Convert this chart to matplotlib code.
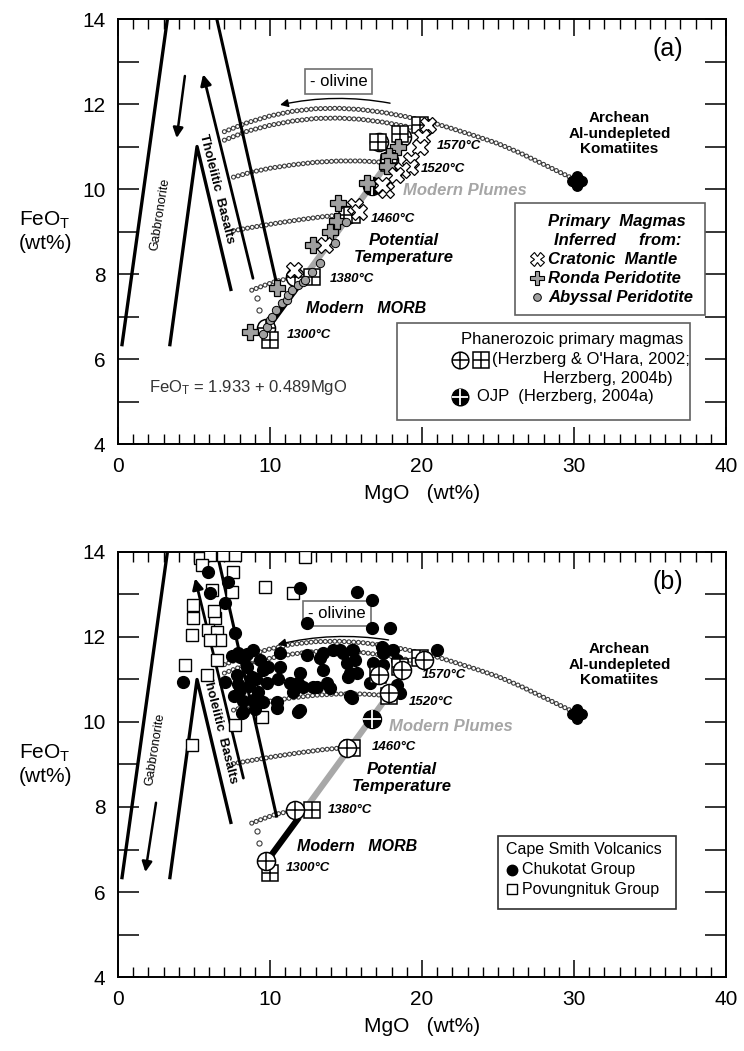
import numpy as np
import matplotlib
matplotlib.use('Agg')
import matplotlib.pyplot as plt
from matplotlib.path import Path
from matplotlib.patches import Rectangle

plt.rcParams['font.family'] = ['Liberation Sans', 'DejaVu Sans']
plt.rcParams['mathtext.fontset'] = 'custom'
plt.rcParams['mathtext.rm'] = 'Liberation Sans'
plt.rcParams['mathtext.it'] = 'Liberation Sans:italic'
plt.rcParams['mathtext.bf'] = 'Liberation Sans:bold'
plt.rcParams['lines.scale_dashes'] = False

# --- olivine control lines (MgO, FeO) ---
ol1_mgo = [7.0, 8.5, 10.0, 11.5, 13.0, 14.5, 16.0, 17.5, 19.0, 20.5, 22.0, 23.5, 25.0, 26.5, 28.0, 29.5, 30.2]
ol1_feo = [11.35, 11.56, 11.72, 11.83, 11.89, 11.9, 11.87, 11.8, 11.7, 11.58, 11.42, 11.25, 11.07, 10.84, 10.58, 10.32, 10.2]
ol2_mgo = [7.0, 8.5, 10.0, 11.5, 13.0, 14.5, 16.0, 17.5, 19.0, 19.9]
ol2_feo = [11.15, 11.36, 11.5, 11.6, 11.66, 11.67, 11.64, 11.57, 11.47, 11.4]
ol3_mgo = [7.6, 8.8, 10.0, 11.5, 13.0, 14.5, 16.0, 17.4]
ol3_feo = [10.28, 10.4, 10.49, 10.57, 10.63, 10.66, 10.66, 10.63]
ol4_mgo = [7.6, 9.0, 10.5, 12.0, 13.5, 15.0]
ol4_feo = [9.02, 9.11, 9.2, 9.28, 9.35, 9.4]
ol5_mgo = [8.8, 9.6, 10.4, 11.3]
ol5_feo = [7.62, 7.73, 7.83, 7.9]
ol_extra_mgo = [9.17, 9.3]
ol_extra_feo = [7.43, 7.15]

# fractionation trends
gab_mgo = [0.25, 3.25]
gab_feo = [6.3, 14.0]
vee_mgo = [3.4, 5.2, 7.45]
vee_feo = [6.3, 11.0, 7.6]
long_mgo = [6.5, 10.45]
long_feo = [14.0, 7.75]

# potential temperature trend
morb_mgo = [9.7, 11.9]
morb_feo = [6.68, 7.75]
plume_mgo = [11.9, 17.4]
plume_feo = [7.75, 10.44]

# panel (a) primary magmas
crat_mgo = [20.4, 20.0, 19.9, 19.3, 19.2, 18.7, 18.3, 17.6, 17.4, 15.6, 15.85, 13.6, 11.6]
crat_feo = [11.5, 11.23, 10.99, 10.68, 10.52, 10.45, 10.33, 9.98, 10.09, 9.6, 9.47, 8.68, 8.09]
ronda_mgo = [18.45, 17.8, 17.7, 16.4, 14.5, 14.4, 13.95, 12.85, 10.45, 8.7]
ronda_feo = [11.0, 10.78, 10.55, 10.15, 9.66, 9.25, 9.0, 8.68, 7.66, 6.64]
aby_mgo = [9.55, 9.78, 10.0, 10.1, 10.4, 10.77, 11.1, 11.2, 11.45, 11.87, 12.2, 12.3, 12.75, 13.3, 14.3, 15.0]
aby_feo = [6.6, 6.76, 6.92, 7.0, 7.15, 7.31, 7.39, 7.5, 7.62, 7.74, 7.82, 7.86, 8.05, 8.25, 8.72, 9.23]

# Phanerozoic primary magmas, OJP, komatiites
phan_c_mgo = [9.75, 11.64, 15.05, 17.85, 17.2, 18.7, 20.1]
phan_c_feo = [6.72, 7.92, 9.39, 10.68, 11.1, 11.22, 11.47]
phan_s_mgo = [10.0, 12.74, 15.4, 17.85, 17.1, 18.55, 19.85]
phan_s_feo = [6.45, 7.92, 9.39, 10.62, 11.1, 11.3, 11.5]
ojp_mgo = [16.69]
ojp_feo = [10.06]
kom_mgo = [30.2]
kom_feo = [10.18]

# panel (b) Cape Smith volcanics
chuk_mgo = [5.94, 7.26, 6.05, 7.04, 7.7, 4.3, 7.04,
            11.97, 15.7, 16.69, 12.41, 16.69, 17.89, 20.97, 17.35, 18.11,
            8.03, 8.9, 8.47, 9.34, 9.56, 8.8, 9.78, 8.03, 8.9, 9.56, 8.14, 7.92, 8.25,
            7.8, 8.3, 9.1, 8.6, 9.2, 8.5, 7.9, 9.9, 8.2, 7.5, 7.6, 9.0,
            10.66, 10.66, 10.44, 10.44, 11.32, 11.53, 11.86, 12.19, 12.41, 13.07, 13.29,
            13.51, 13.73, 14.17, 14.82, 15.04, 15.37, 15.59, 15.7, 15.26, 15.26, 11.86,
            11.97, 12.85, 13.95, 15.37, 13.51, 15.48, 14.61, 15.15, 11.97, 10.5,
            16.8, 17.02, 16.58, 18.33, 18.55, 18.33, 17.46, 17.46]
chuk_feo = [13.54, 13.3, 13.03, 12.79, 12.09, 10.95, 10.95,
            13.15, 13.07, 12.87, 12.32, 12.2, 12.2, 11.69, 11.77, 11.69,
            11.54, 11.69, 11.3, 11.46, 11.22, 11.07, 10.91, 10.75, 10.52, 10.48, 10.2, 11.62, 10.24,
            11.1, 11.5, 11.0, 10.85, 10.7, 11.6, 10.9, 11.3, 10.5, 11.55, 10.6, 10.3,
            11.62, 11.3, 10.48, 10.32, 10.91, 10.71, 10.24, 10.83, 11.58, 10.83, 11.5,
            11.22, 10.91, 11.69, 11.62, 11.38, 11.69, 11.46, 11.15, 11.15, 10.6, 10.91,
            11.15, 10.83, 10.79, 10.56, 11.62, 11.69, 11.69, 11.07, 10.28, 11.0,
            11.38, 11.15, 10.91, 11.46, 10.68, 10.87, 11.62, 11.34]
povu_mgo = [5.39, 6.05, 6.93, 7.7, 12.3, 5.5, 7.59, 9.67, 11.53, 6.16, 7.48, 4.95, 4.95,
            6.38, 4.85, 5.94, 6.49, 6.71, 6.05, 6.49, 4.41, 5.83, 7.7, 4.85, 9.5, 6.3]
povu_feo = [13.85, 13.93, 13.93, 13.93, 13.89, 13.7, 13.54, 13.18, 13.03, 13.1, 13.07, 12.75, 12.44,
            12.44, 12.05, 12.16, 12.12, 11.93, 11.93, 11.46, 11.34, 11.1, 9.93, 9.46, 10.12, 12.6]

temps = ['1570°C', '1520°C', '1460°C', '1380°C', '1300°C']

BI = dict(fontweight='bold', fontstyle='italic')


def dotted(ax, x, y):
    # chain of small open circles
    pat = (0, (0.01, 3.4))
    ax.plot(x, y, color='#3c3c3c', lw=3.7, ls=pat, dash_capstyle='round', zorder=2)
    ax.plot(x, y, color='white', lw=2.1, ls=pat, dash_capstyle='round', zorder=2.1)


def circ_cross(ax, x, y, ms=13, z=6):
    ax.plot(x, y, 'o', ms=ms, mfc='white', mec='black', mew=1.1, ls='none', zorder=z)
    ax.plot(x, y, '+', ms=ms, color='black', mew=1.1, ls='none', zorder=z)


def sq_cross(ax, x, y, ms=12, z=6):
    ax.plot(x, y, 's', ms=ms, mfc='white', mec='black', mew=1.1, ls='none', zorder=z)
    ax.plot(x, y, '+', ms=ms, color='black', mew=1.1, ls='none', zorder=z)


def ojp(ax, x, y, ms=13, z=6.5):
    ax.plot(x, y, 'o', ms=ms, color='black', ls='none', zorder=z)
    ax.plot(x, y, '+', ms=ms, color='white', mew=1.3, ls='none', zorder=z)


kom_path = Path.make_compound_path(Path.circle((0.4, 0), 0.42), Path.circle((-0.4, 0), 0.42),
                                   Path.circle((0, 0.4), 0.42), Path.circle((0, -0.4), 0.42))


def base(ax):
    ax.set_xlim(0, 40)
    ax.set_ylim(4, 14)
    ax.set_xticks([0, 10, 20, 30, 40])
    ax.set_xticks(np.arange(0, 41, 1), minor=True)
    ax.set_yticks([4, 6, 8, 10, 12, 14])
    ax.set_yticks([5, 7, 9, 11, 13], minor=True)
    ax.tick_params(axis='x', which='major', direction='in', length=12, width=1.1,
                   top=True, labelsize=15, pad=9)
    ax.tick_params(axis='x', which='minor', direction='in', length=7.5, width=1.0, top=True)
    ax.tick_params(axis='y', which='both', direction='in', length=15, width=1.1,
                   right=True, labelsize=15, pad=9)
    for s in ax.spines.values():
        s.set_linewidth(1.4)
    ax.set_xlabel('MgO   (wt%)', fontsize=15, labelpad=6)
    ax.set_ylabel('FeO$_\\mathrm{T}$\n(wt%)', fontsize=15, rotation=0, ha='center', va='center')
    ax.yaxis.set_label_coords(-0.12, 0.5)

    for xs, ys in [(ol1_mgo, ol1_feo), (ol2_mgo, ol2_feo), (ol3_mgo, ol3_feo),
                   (ol4_mgo, ol4_feo), (ol5_mgo, ol5_feo)]:
        dotted(ax, xs, ys)
    ax.plot(ol_extra_mgo, ol_extra_feo, 'o', ms=3.7, mfc='white', mec='#3c3c3c', mew=0.8, ls='none')

    ax.plot(gab_mgo, gab_feo, color='black', lw=2.4, solid_capstyle='butt', zorder=3)
    ax.plot(vee_mgo, vee_feo, color='black', lw=2.4, solid_capstyle='butt', zorder=3)
    ax.plot(long_mgo, long_feo, color='black', lw=2.2, solid_capstyle='butt', zorder=3)

    ax.plot(plume_mgo, plume_feo, color='#a8a8a8', lw=4.5, solid_capstyle='butt', zorder=3)
    ax.plot(morb_mgo, morb_feo, color='black', lw=4.5, solid_capstyle='butt', zorder=3)

    ax.plot(kom_mgo, kom_feo, marker=kom_path, ms=14, color='black', ls='none', zorder=6)


fig = plt.figure(figsize=(7.44, 10.51), dpi=100)
axa = fig.add_axes([0.1586, 0.5775, 0.8172, 0.4044])
axb = fig.add_axes([0.1586, 0.0704, 0.8172, 0.4044])

# ---------------- panel (a) ----------------
ax = axa
base(ax)
ax.annotate('', xy=(5.6, 12.7), xytext=(8.88, 7.9),
            arrowprops=dict(arrowstyle='-|>', lw=2.0, color='black', mutation_scale=16,
                            shrinkA=0, shrinkB=0), zorder=3)
ax.annotate('', xy=(3.86, 11.2), xytext=(4.4, 12.66),
            arrowprops=dict(arrowstyle='-|>', lw=1.8, color='black', mutation_scale=15,
                            shrinkA=0, shrinkB=0), zorder=3)
ax.text(6.5, 10.0, 'Tholeiitic  Basalts', rotation=-76, fontsize=9.5, fontweight='bold',
        ha='center', va='center')
ax.text(2.75, 9.4, 'Gabbronorite', rotation=81, fontsize=9, ha='center', va='center')

circ_cross(ax, phan_c_mgo, phan_c_feo)
sq_cross(ax, phan_s_mgo, phan_s_feo)
ojp(ax, ojp_mgo, ojp_feo)
ax.plot(ronda_mgo, ronda_feo, 'P', ms=12, mfc='#a0a0a0', mec='black', mew=0.9, ls='none', zorder=7)
ax.plot(crat_mgo, crat_feo, 'X', ms=12, mfc='white', mec='black', mew=0.9, ls='none', zorder=7.5)
ax.plot(aby_mgo, aby_feo, 'o', ms=6, mfc='#a0a0a0', mec='black', mew=0.7, ls='none', zorder=8)

ax.text(14.5, 12.53, '- olivine', fontsize=12, ha='center', va='center',
        bbox=dict(boxstyle='square,pad=0.3', fc='white', ec='#707070', lw=1.2))
ax.annotate('', xy=(10.66, 11.98), xytext=(17.9, 12.02),
            arrowprops=dict(arrowstyle='-|>', lw=1.0, color='black', mutation_scale=12,
                            shrinkA=0, shrinkB=0, connectionstyle='arc3,rad=0.1'))

for t, x, y in zip(temps, [21.0, 19.9, 16.6, 13.95, 11.1], [11.02, 10.47, 9.29, 7.88, 6.56]):
    ax.text(x, y, t, fontsize=9.5, ha='left', va='center', **BI)
ax.text(18.75, 9.97, 'Modern Plumes', fontsize=12, color='#a6a6a6', ha='left', va='center', **BI)
ax.text(18.8, 8.59, 'Potential\nTemperature', fontsize=12, ha='center', va='center',
        linespacing=1.1, **BI)
ax.text(12.4, 7.19, 'Modern   MORB', fontsize=11.5, ha='left', va='center', **BI)
ax.text(33.0, 11.3, 'Archean\nAl-undepleted\nKomatiites', fontsize=11, fontweight='bold',
        ha='center', va='center', linespacing=1.15)
ax.text(36.2, 13.3, '(a)', fontsize=18, ha='center', va='center')
ax.text(2.05, 5.33, 'FeO$_\\mathrm{T}$ = 1.933 + 0.489MgO', fontsize=12, color='#333333',
        ha='left', va='center')

# legend box 1
ax.add_patch(Rectangle((26.1, 7.04), 12.5, 2.63, fc='white', ec='#606060', lw=1.2, zorder=4))
ax.text(32.8, 9.23, 'Primary  Magmas', fontsize=12, ha='center', va='center', zorder=5, **BI)
ax.text(32.9, 8.8, 'Inferred     from:', fontsize=12, ha='center', va='center', zorder=5, **BI)
ax.plot([27.55], [8.35], 'X', ms=10, mfc='white', mec='black', mew=0.8, zorder=5)
ax.plot([27.55], [7.9], 'P', ms=10, mfc='#a0a0a0', mec='black', mew=0.8, zorder=5)
ax.plot([27.55], [7.45], 'o', ms=5.5, mfc='#a0a0a0', mec='black', mew=0.7, zorder=5)
ax.text(28.3, 8.35, 'Cratonic  Mantle', fontsize=12, ha='left', va='center', zorder=5, **BI)
ax.text(28.3, 7.9, 'Ronda Peridotite', fontsize=12, ha='left', va='center', zorder=5, **BI)
ax.text(28.3, 7.45, 'Abyssal Peridotite', fontsize=12, ha='left', va='center', zorder=5, **BI)

# legend box 2
ax.add_patch(Rectangle((18.36, 4.56), 19.24, 2.29, fc='white', ec='#606060', lw=1.2, zorder=4))
ax.text(37.2, 6.47, 'Phanerozoic primary magmas', fontsize=12, ha='right', va='center', zorder=5)
circ_cross(ax, [22.5], [5.98], ms=12, z=5)
sq_cross(ax, [23.85], [5.98], ms=11, z=5)
ax.text(24.6, 5.98, "(Herzberg & O'Hara, 2002;", fontsize=12, ha='left', va='center', zorder=5)
ax.text(36.5, 5.55, 'Herzberg, 2004b)', fontsize=12, ha='right', va='center', zorder=5)
ojp(ax, [22.5], [5.11], ms=12, z=5)
ax.text(23.6, 5.11, 'OJP  (Herzberg, 2004a)', fontsize=12, ha='left', va='center', zorder=5)

# ---------------- panel (b) ----------------
ax = axb
base(ax)
ax.annotate('', xy=(5.07, 13.38), xytext=(8.25, 8.68),
            arrowprops=dict(arrowstyle='-|>', lw=2.0, color='black', mutation_scale=16,
                            shrinkA=0, shrinkB=0), zorder=3)
ax.annotate('', xy=(1.8, 6.47), xytext=(2.5, 8.1),
            arrowprops=dict(arrowstyle='-|>', lw=1.8, color='black', mutation_scale=15,
                            shrinkA=0, shrinkB=0), zorder=3)
ax.text(6.7, 9.85, 'Tholeiitic  Basalts', rotation=-76, fontsize=9.5, fontweight='bold',
        ha='center', va='center')
ax.text(2.45, 9.36, 'Gabbronorite', rotation=81, fontsize=9, ha='center', va='center')

ax.text(14.4, 12.56, '- olivine', fontsize=12, ha='center', va='center', zorder=4,
        bbox=dict(boxstyle='square,pad=0.3', fc='white', ec='#707070', lw=1.2))
ax.annotate('', xy=(10.5, 11.82), xytext=(17.8, 11.93),
            arrowprops=dict(arrowstyle='-|>', lw=1.0, color='black', mutation_scale=12,
                            shrinkA=0, shrinkB=0, connectionstyle='arc3,rad=0.1'), zorder=4)

ax.plot(povu_mgo, povu_feo, 's', ms=8, mfc='white', mec='black', mew=1.0, ls='none', zorder=5)
ax.plot(chuk_mgo, chuk_feo, 'o', ms=8.5, color='black', ls='none', zorder=5.5)
circ_cross(ax, phan_c_mgo, phan_c_feo, z=7)
sq_cross(ax, phan_s_mgo, phan_s_feo, z=6.8)
ojp(ax, ojp_mgo, ojp_feo, z=7)

for t, x, y in zip(temps, [20.0, 19.1, 16.7, 13.8, 11.05], [11.1, 10.48, 9.42, 7.94, 6.57]):
    ax.text(x, y, t, fontsize=9.5, ha='left', va='center', zorder=5, **BI)
ax.text(17.8, 9.89, 'Modern Plumes', fontsize=12, color='#a6a6a6', ha='left', va='center', **BI)
ax.text(18.67, 8.68, 'Potential\nTemperature', fontsize=12, ha='center', va='center',
        linespacing=1.1, **BI)
ax.text(11.8, 7.08, 'Modern   MORB', fontsize=11.5, ha='left', va='center', **BI)
ax.text(33.0, 11.35, 'Archean\nAl-undepleted\nKomatiites', fontsize=11, fontweight='bold',
        ha='center', va='center', linespacing=1.15)
ax.text(36.2, 13.3, '(b)', fontsize=18, ha='center', va='center')

ax.add_patch(Rectangle((25.0, 5.6), 11.7, 1.72, fc='white', ec='#303030', lw=1.2, zorder=4))
ax.text(25.5, 6.99, 'Cape Smith Volcanics', fontsize=11.5, ha='left', va='center', zorder=5)
ax.plot([25.95], [6.52], 'o', ms=7.5, color='black', zorder=5)
ax.plot([25.95], [6.07], 's', ms=7, mfc='white', mec='black', mew=1.0, zorder=5)
ax.text(26.6, 6.52, 'Chukotat Group', fontsize=11.5, ha='left', va='center', zorder=5)
ax.text(26.6, 6.07, 'Povungnituk Group', fontsize=11.5, ha='left', va='center', zorder=5)

fig.savefig('out.png', dpi=100)
